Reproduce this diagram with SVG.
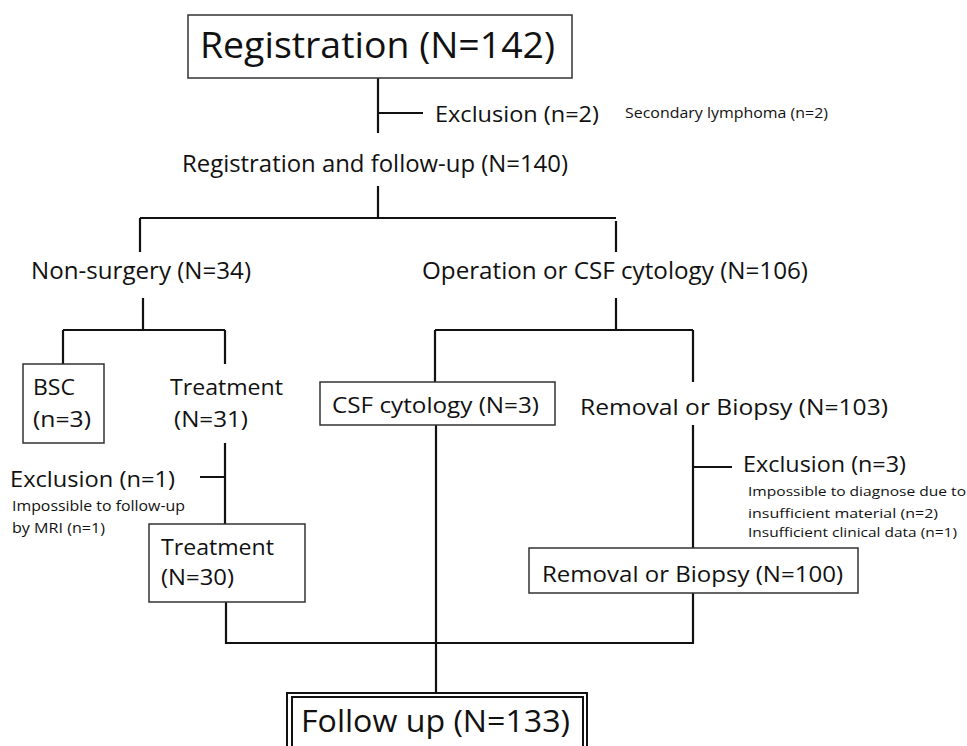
<svg xmlns="http://www.w3.org/2000/svg" width="967" height="746" viewBox="0 0 967 746">
<style>
text{font-family:"Open Sans","Liberation Sans",sans-serif;fill:#111;}
.box{fill:#fff;stroke:#333;stroke-width:1.5;}
.ln{fill:none;stroke:#111;stroke-width:2.2;}
</style>
<rect width="967" height="746" fill="#fff"/>
<g id="connectors">
<path class="ln" d="M378 78V133M378 113H423"/>
<path class="ln" d="M378 186V218M140 218H616M140 218V252M616 221V252"/>
<path class="ln" d="M143 298V330M63 330H225M63 330V364M225 330V364"/>
<path class="ln" d="M616 298V330M435 330H693M435 330V382M693 330V382"/>
<path class="ln" d="M225 443V524M200 477H225"/>
<path class="ln" d="M693 425V548M693 467H732"/>
<path class="ln" d="M226 602V643H693V593"/>
<path class="ln" d="M436 425V693"/>
</g>
<g id="registration">
<rect class="box" x="188" y="15" width="384" height="63"/>
<text x="200" y="58" font-size="36" textLength="355" lengthAdjust="spacingAndGlyphs">Registration (N=142)</text>
</g>
<g id="exclusion1">
<text x="435" y="122" font-size="22" textLength="164" lengthAdjust="spacingAndGlyphs">Exclusion (n=2)</text>
<text x="625" y="118" font-size="15" textLength="203" lengthAdjust="spacingAndGlyphs">Secondary lymphoma (n=2)</text>
</g>
<g id="regfollow">
<text x="182" y="172" font-size="23" textLength="386" lengthAdjust="spacingAndGlyphs">Registration and follow-up (N=140)</text>
</g>
<g id="nonsurgery">
<text x="31" y="279" font-size="23" textLength="220" lengthAdjust="spacingAndGlyphs">Non-surgery (N=34)</text>
</g>
<g id="operation">
<text x="422" y="279" font-size="23" textLength="386" lengthAdjust="spacingAndGlyphs">Operation or CSF cytology (N=106)</text>
</g>
<g id="bsc">
<rect class="box" x="23" y="364" width="81" height="79"/>
<text x="33" y="395" font-size="21" textLength="42" lengthAdjust="spacingAndGlyphs">BSC</text>
<text x="33" y="427" font-size="21" textLength="58" lengthAdjust="spacingAndGlyphs">(n=3)</text>
</g>
<g id="treatment31">
<text x="170" y="395" font-size="21" textLength="113" lengthAdjust="spacingAndGlyphs">Treatment</text>
<text x="174" y="427" font-size="21" textLength="74" lengthAdjust="spacingAndGlyphs">(N=31)</text>
</g>
<g id="exclusion2">
<text x="10" y="487" font-size="21" textLength="165" lengthAdjust="spacingAndGlyphs">Exclusion (n=1)</text>
<text x="12" y="511" font-size="14" textLength="173" lengthAdjust="spacingAndGlyphs">Impossible to follow-up</text>
<text x="12" y="533" font-size="14" textLength="93" lengthAdjust="spacingAndGlyphs">by MRI (n=1)</text>
</g>
<g id="treatment30">
<rect class="box" x="149" y="524" width="156" height="78"/>
<text x="161" y="555" font-size="21" textLength="113" lengthAdjust="spacingAndGlyphs">Treatment</text>
<text x="161" y="585" font-size="21" textLength="73" lengthAdjust="spacingAndGlyphs">(N=30)</text>
</g>
<g id="csf">
<rect class="box" x="320" y="382" width="235" height="43"/>
<text x="332" y="413" font-size="22" textLength="207" lengthAdjust="spacingAndGlyphs">CSF cytology (N=3)</text>
</g>
<g id="removal103">
<text x="580" y="415" font-size="22" textLength="308" lengthAdjust="spacingAndGlyphs">Removal or Biopsy  (N=103)</text>
</g>
<g id="exclusion3">
<text x="743" y="472" font-size="21" textLength="163" lengthAdjust="spacingAndGlyphs">Exclusion (n=3)</text>
<text x="748" y="496" font-size="13.5" textLength="218" lengthAdjust="spacingAndGlyphs">Impossible to diagnose due to</text>
<text x="748" y="518" font-size="13.5" textLength="190" lengthAdjust="spacingAndGlyphs">insufficient material (n=2)</text>
<text x="748" y="537" font-size="13.5" textLength="209" lengthAdjust="spacingAndGlyphs">Insufficient clinical data (n=1)</text>
</g>
<g id="removal100">
<rect class="box" x="529" y="548" width="329" height="45"/>
<text x="542" y="582" font-size="21" textLength="301" lengthAdjust="spacingAndGlyphs">Removal or Biopsy (N=100)</text>
</g>
<g id="followup">
<rect x="287" y="693" width="300" height="70" fill="#fff" stroke="#111" stroke-width="2"/>
<rect x="292" y="697" width="291" height="66" fill="none" stroke="#111" stroke-width="2"/>
<text x="301" y="732" font-size="31" textLength="269" lengthAdjust="spacingAndGlyphs">Follow up (N=133)</text>
</g>
</svg>
